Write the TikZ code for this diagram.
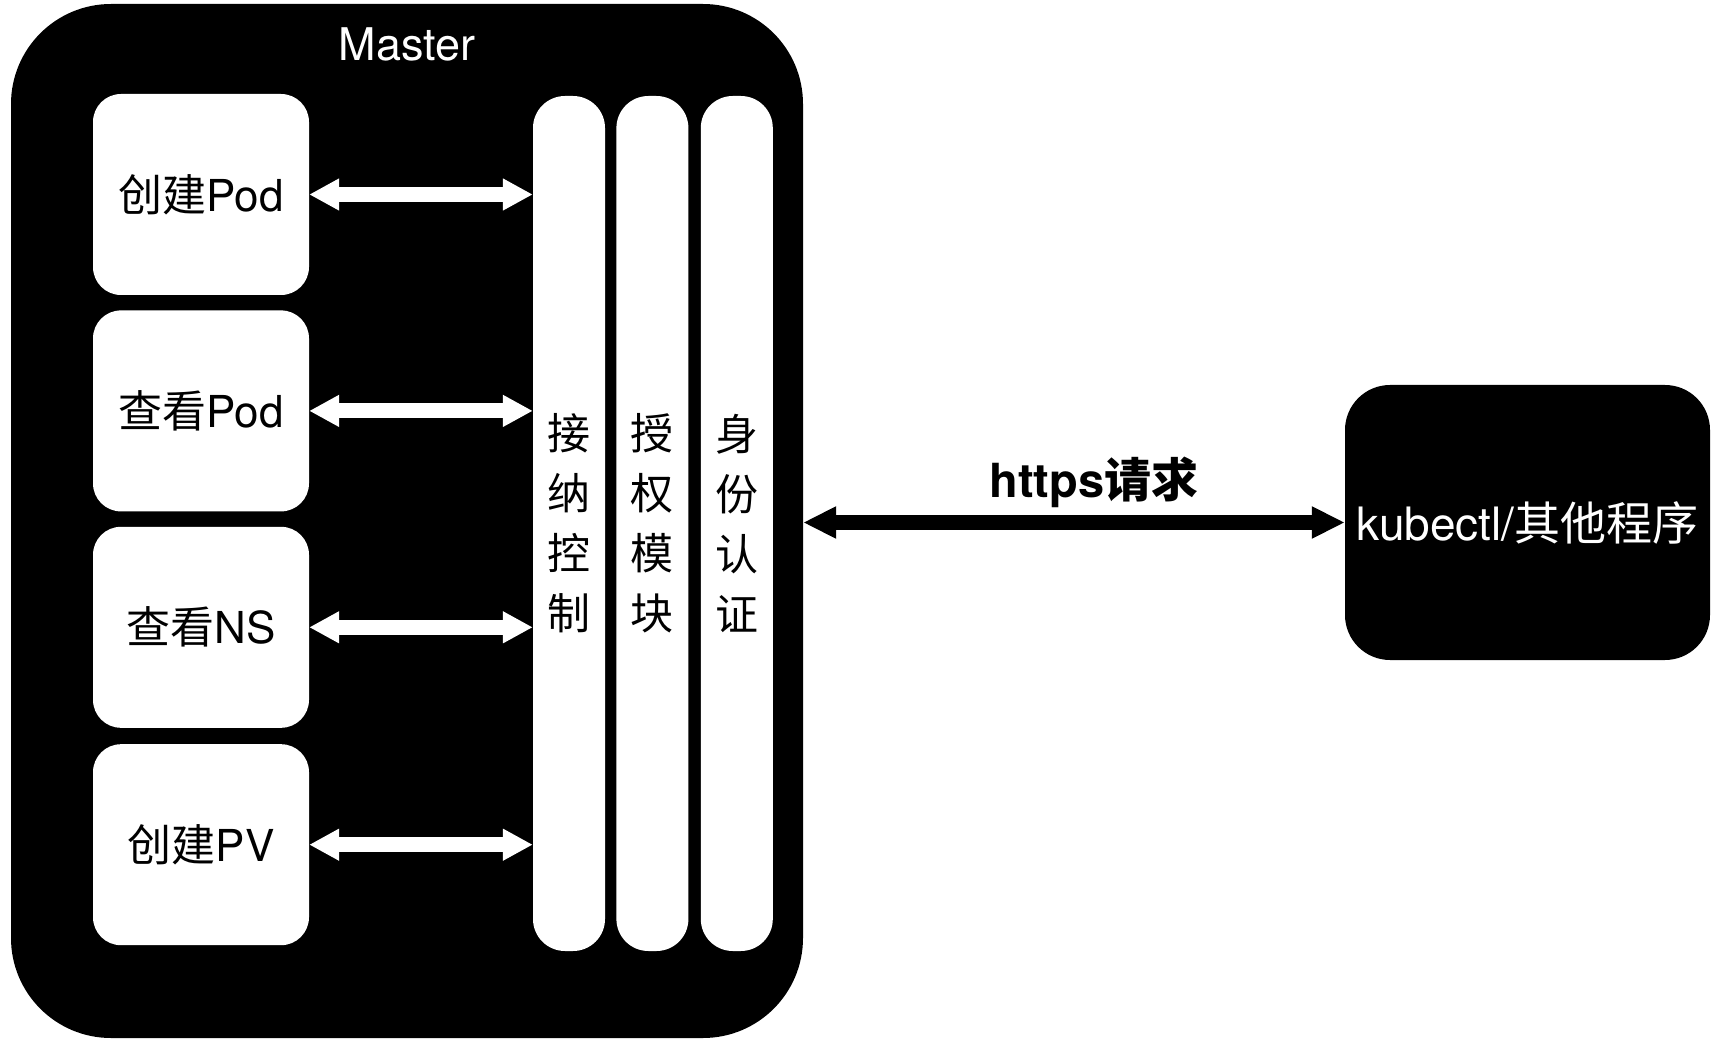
\documentclass[tikz,border=0pt]{standalone}
\usepackage{fontspec}
\setmainfont{TeX Gyre Heros}
\newfontfamily\cjk{Noto Sans CJK SC}
\usetikzlibrary{arrows.meta,positioning}

\begin{document}
\begin{tikzpicture}[
  x=1pt, y=-1pt,
  master/.style={fill=black, rounded corners=100pt, inner sep=0pt, minimum width=792pt, minimum height=1034pt},
  opbox/.style={fill=white, rounded corners=28pt, inner sep=0pt, minimum width=216pt, minimum height=201pt, align=center, font=\fontsize{44}{50}\selectfont},
  bar/.style={fill=white, rounded corners=32pt, inner sep=0pt, minimum width=72pt, minimum height=855pt, align=center, font=\fontsize{43}{60}\selectfont\cjk},
  client/.style={fill=black, text=white, rounded corners=45pt, inner sep=0pt, minimum width=365pt, minimum height=275pt, font=\fontsize{46}{50}\selectfont},
  warr/.style={{Triangle[width=30pt,length=30pt]}-{Triangle[width=30pt,length=30pt]}, white, line width=15pt},
  barr/.style={{Triangle[width=30pt,length=33pt]}-{Triangle[width=30pt,length=33pt]}, black, line width=15pt}
]
\useasboundingbox (0,0) rectangle (1730,1048);

\node[master] (master) at (407,521) {};
\node[text=white, font=\fontsize{45}{50}\selectfont] (title) at (407,44) {Master};

% operations
\node[opbox] (createpod) at (201,194.5) {{\cjk 创建}Pod};
\node[opbox, below=15pt of createpod] (viewpod) {{\cjk 查看}Pod};
\node[opbox, below=15pt of viewpod] (viewns) {{\cjk 查看}NS};
\node[opbox, below=16pt of viewns] (createpv) {{\cjk 创建}PV};

% admission / authorization / authentication
\node[bar] (admit) at (569,523.5) {接\\纳\\控\\制};
\node[bar, right=11pt of admit] (authz) {授\\权\\模\\块};
\node[bar, right=12pt of authz] (authn) {身\\份\\认\\证};

\node[client] (kubectl) at (1527.5,522.5) {kubectl/{\cjk 其他程序}};

\draw[warr] (createpod.east) -- (createpod.east -| admit.west);
\draw[warr] (viewpod.east) -- (viewpod.east -| admit.west);
\draw[warr] (viewns.east) -- (viewns.east -| admit.west);
\draw[warr] (createpv.east) -- (createpv.east -| admit.west);

\draw[barr] (kubectl.west -| master.east) -- (kubectl.west)
  node[midway, yshift=40pt, xshift=20pt, font=\fontsize{47}{50}\selectfont\bfseries] (https) {https{\cjk 请求}};

\end{tikzpicture}
\end{document}
